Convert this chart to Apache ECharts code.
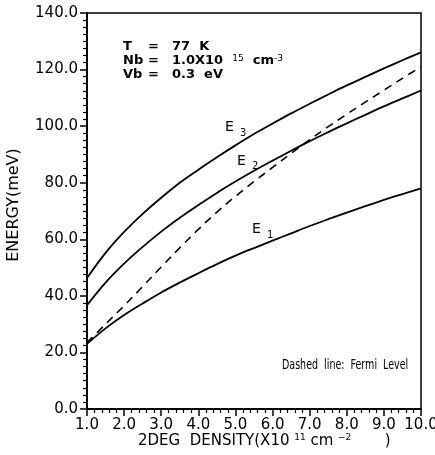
<!DOCTYPE html>
<html><head><meta charset="utf-8">
<script src="https://cdn.jsdelivr.net/npm/echarts@6/dist/echarts.min.js"></script>
<style>html,body{margin:0;padding:0;background:#fff}#c{width:435px;height:455px}</style>
</head><body><div id="c"></div>
<script>
// 2DEG density (x10^11 cm^-2)
const density = [1.0, 1.5, 2.0, 2.5, 3.0, 3.5, 4.0, 4.5, 5.0, 5.5, 6.0, 6.5, 7.0, 7.5, 8.0, 8.5, 9.0, 9.5, 10.0];
// subband energies (meV)
const e1 = [23.0, 28.5, 33.2, 37.3, 41.2, 44.7, 48.0, 51.2, 54.2, 56.9, 59.5, 62.1, 64.7, 67.1, 69.4, 71.7, 73.9, 76.0, 78.0];
const e2 = [36.7, 44.7, 51.4, 57.3, 62.7, 67.6, 72.1, 76.4, 80.4, 84.2, 87.8, 91.3, 94.7, 97.9, 101.0, 104.0, 107.0, 109.8, 112.6];
const e3 = [46.3, 55.2, 62.6, 69.0, 74.7, 80.0, 84.6, 89.0, 93.2, 97.2, 100.9, 104.5, 107.9, 111.2, 114.4, 117.4, 120.4, 123.3, 126.1];
// Fermi level (meV)
const fermi = [23.5, 30.0, 36.5, 43.3, 50.2, 57.0, 63.5, 69.6, 75.2, 80.4, 85.4, 90.4, 95.2, 99.8, 104.2, 108.5, 112.7, 116.9, 121.0];
// axis ticks
const xTicks = [1.0, 2.0, 3.0, 4.0, 5.0, 6.0, 7.0, 8.0, 9.0, 10.0];
const yTicks = [0, 20, 40, 60, 80, 100, 120, 140];

const FONT = 'DejaVu Sans';
const pair = ys => density.map((x, i) => [x, ys[i]]);

const chart = echarts.init(document.getElementById('c'), null, {renderer: 'canvas'});

function axisCommon(minorN) {
  return {
    axisLine: {show: true, lineStyle: {color: '#000', width: 2}},
    axisTick: {show: true, length: 7, inside: false, lineStyle: {color: '#000', width: 1.5}},
    minorTick: {show: true, splitNumber: minorN, length: 4, lineStyle: {color: '#000', width: 1.2}},
    splitLine: {show: false},
    axisLabel: {color: '#000', fontSize: 15, fontFamily: FONT, margin: 9,
      formatter: v => Number(v).toFixed(1)}
  };
}

function mk(name, ys, dashed) {
  return {
    name, type: 'line', data: pair(ys), smooth: 0.35, symbol: 'none',
    lineStyle: dashed ? {color: '#000', width: 1.6, type: [8, 6]} : {color: '#000', width: 1.8},
    silent: true, animation: false
  };
}

function txt(x, y, text, size, extra, elExtra) {
  return Object.assign({
    type: 'text', x, y, silent: true,
    style: Object.assign({text, fontSize: size, fontFamily: FONT, fill: '#000',
      textAlign: 'left', textVerticalAlign: 'middle'}, extra || {})
  }, elExtra || {});
}

const sup = {fontSize: 9, fontFamily: FONT, verticalAlign: 'top', fill: '#000'};
const nrm = (s, w) => ({fontSize: s, fontFamily: FONT, fill: '#000', fontWeight: w || 'normal'});
const B = {fontWeight: 'bold'};

chart.setOption({
  animation: false,
  backgroundColor: '#fff',
  grid: {left: 87, right: 14, top: 13, bottom: 46, show: true, borderColor: '#000', borderWidth: 1.5,
    containLabel: false, outerBoundsMode: 'none'},
  xAxis: Object.assign(axisCommon(5), {
    type: 'value', min: xTicks[0], max: xTicks[xTicks.length - 1], interval: 1
  }),
  yAxis: Object.assign(axisCommon(8), {
    type: 'value', min: yTicks[0], max: yTicks[yTicks.length - 1], interval: 20
  }),
  series: [mk('E1', e1), mk('E2', e2), mk('E3', e3), mk('Fermi', fermi, true)],
  graphic: [
    // parameter block
    txt(123, 47, 'T', 13, B), txt(148, 47, '=', 13, B), txt(172, 47, '77  K', 13, B),
    txt(123, 61, 'Nb', 13, B), txt(148, 61, '=', 13, B),
    txt(172, 61, '{n|1.0X10  }{s|15}{n|  cm}{s|-3}', 13, {rich: {n: nrm(13, 'bold'), s: sup}}),
    txt(123, 75, 'Vb', 13, B), txt(148, 75, '=', 13, B), txt(172, 75, '0.3  eV', 13, B),
    // curve labels
    txt(225, 127, 'E', 14), txt(240, 133, '3', 10),
    txt(237, 161, 'E', 14), txt(252, 166, '2', 10),
    txt(252, 229, 'E', 14), txt(267, 235, '1', 10),
    // note
    txt(282, 365, 'Dashed  line:  Fermi  Level', 14, null, {scaleX: 0.68}),
    // axis names
    txt(138, 441, '{n|2DEG  DENSITY(X10 }{s|11}{n| cm }{s|−2}{n|       )}', 15, {rich: {n: nrm(15), s: sup}}),
    {type: 'text', x: 14, y: 205, rotation: Math.PI / 2, silent: true,
      style: {text: 'ENERGY(meV)', fontSize: 16, fontFamily: FONT, fill: '#000',
        textAlign: 'center', textVerticalAlign: 'middle'}}
  ]
});
</script></body></html>
